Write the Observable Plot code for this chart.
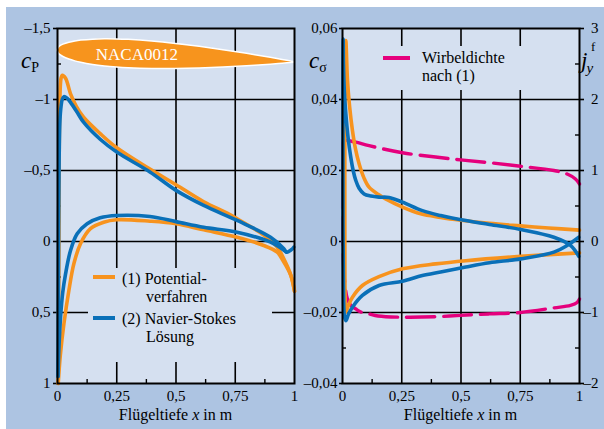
<!DOCTYPE html>
<html>
<head>
<meta charset="utf-8">
<script src="https://cdn.jsdelivr.net/npm/d3@7"></script>
<script src="https://cdn.jsdelivr.net/npm/@observablehq/plot@0.6"></script>
<style>
  html, body { margin: 0; padding: 0; background: #fff; }
  #wrap { position: relative; width: 604px; height: 429px; overflow: hidden; background: #fff; }
  #bg { position: absolute; left: 6px; top: 7px; width: 598px; height: 422px; background: #adc4e2; }
  #left, #right, #overlay { position: absolute; top: 0; }
  #left { left: 0; }
  #right { left: 300px; }
  #overlay { left: 0; pointer-events: none; }
  #overlay text { font-family: "Liberation Serif", "Times New Roman", Tinos, Times, "DejaVu Serif", "Noto Serif", serif; }
</style>
</head>
<body>
<div id="wrap">
  <div id="bg"></div>
  <div id="left"></div>
  <div id="right"></div>
  <svg id="overlay" width="604" height="429" xmlns="http://www.w3.org/2000/svg">
    <!-- axis name labels -->
    <text x="21" y="68" font-size="23" font-style="italic">c<tspan font-size="14" font-style="normal" dy="4">P</tspan></text>
    <text x="309" y="68" font-size="23" font-style="italic">c<tspan font-size="14" font-style="normal" dy="4">σ</tspan></text>
    <text x="581" y="68" font-size="23" font-style="italic">j<tspan font-size="15" dy="5" dx="-1">y</tspan></text>
    <text x="591" y="51" font-size="13">f</text>
    <!-- left legend -->
    <rect x="88" y="268" width="184" height="94" fill="#d5e0f0"/>
    <line x1="93" y1="277" x2="115" y2="277" stroke="#f7931e" stroke-width="4"/>
    <text x="122" y="284" font-size="16">(1) Potential-</text>
    <text x="146" y="302" font-size="16">verfahren</text>
    <line x1="93" y1="318" x2="115" y2="318" stroke="#0a70b8" stroke-width="4"/>
    <text x="122" y="324" font-size="16">(2) Navier-Stokes</text>
    <text x="146" y="342" font-size="16">Lösung</text>
    <!-- right legend -->
    <rect x="378" y="46" width="146" height="44" fill="#d5e0f0"/>
    <line x1="383" y1="58" x2="410" y2="58" stroke="#e5007d" stroke-width="4"/>
    <text x="422" y="63" font-size="16">Wirbeldichte</text>
    <text x="422" y="81" font-size="16">nach (1)</text>
    <!-- x axis titles -->
    <text x="175.5" y="420" font-size="16" text-anchor="middle">Flügeltiefe <tspan font-style="italic">x</tspan> in m</text>
    <text x="460.5" y="420" font-size="16" text-anchor="middle">Flügeltiefe <tspan font-style="italic">x</tspan> in m</text>
  </svg>
</div>
<script>
// ---------- tick values ----------
const xTicks = [0, 0.25, 0.5, 0.75, 1];
const xMinor = [0.125, 0.375, 0.625, 0.875];
const cpTicks = [-1.5, -1, -0.5, 0, 0.5, 1];
const cpMinor = [-1.25, -0.75, -0.25, 0.25, 0.75];
const csTicks = [-0.04, -0.02, 0, 0.02, 0.04, 0.06];
const csMinor = [-0.03, -0.01, 0.01, 0.03, 0.05];
const jTicks = [-2, -1, 0, 1, 2, 3];
const jMinor = [-1.5, -0.5, 0.5, 1.5, 2.5];

// ---------- left panel: pressure coefficient cp ----------
const cpPotUpperX = [0.003, 0.006, 0.009, 0.015, 0.02, 0.034, 0.055, 0.08, 0.11, 0.18, 0.25, 0.39, 0.5, 0.617, 0.716, 0.758, 0.87, 0.927, 0.96, 0.985, 1.0];
const cpPotUpper  = [1.0, 0.0, -0.9, -1.15, -1.17, -1.15, -1.04, -0.95, -0.875, -0.76, -0.66, -0.51, -0.40, -0.28, -0.2, -0.16, -0.045, 0.04, 0.14, 0.24, 0.35];
const cpPotLowerX = [0.003, 0.012, 0.027, 0.048, 0.069, 0.097, 0.139, 0.195, 0.25, 0.39, 0.5, 0.617, 0.758, 0.87, 0.927, 0.95, 0.985, 1.0];
const cpPotLower  = [1.0, 0.8, 0.58, 0.345, 0.157, 0.016, -0.09, -0.136, -0.153, -0.143, -0.125, -0.082, -0.03, 0.028, 0.075, 0.13, 0.24, 0.35];
const cpNSUpperX = [0.002, 0.004, 0.007, 0.012, 0.02, 0.027, 0.04, 0.055, 0.083, 0.11, 0.18, 0.25, 0.39, 0.5, 0.617, 0.758, 0.899, 0.955, 0.966, 0.985, 0.997];
const cpNSUpper  = [0.95, 0.2, -0.6, -0.9, -1.0, -1.02, -1.01, -0.98, -0.91, -0.84, -0.72, -0.63, -0.49, -0.36, -0.254, -0.148, -0.03, 0.05, 0.075, 0.06, 0.04];
const cpNSLowerX = [0.002, 0.006, 0.013, 0.022, 0.034, 0.055, 0.083, 0.125, 0.18, 0.25, 0.39, 0.5, 0.617, 0.758, 0.899, 0.966];
const cpNSLower  = [0.95, 0.75, 0.53, 0.36, 0.228, 0.063, -0.054, -0.125, -0.167, -0.183, -0.176, -0.14, -0.10, -0.065, 0.005, 0.075];

// NACA0012 profile (standard half-thickness table)
const foilX = [0, 0.005, 0.0125, 0.025, 0.05, 0.075, 0.1, 0.15, 0.2, 0.25, 0.3, 0.4, 0.5, 0.6, 0.7, 0.8, 0.9, 0.95, 1.0];
const foilT = [0, 0.0117, 0.01894, 0.02615, 0.03555, 0.042, 0.04683, 0.05345, 0.05737, 0.05941, 0.06002, 0.05803, 0.05294, 0.04563, 0.03664, 0.02623, 0.01448, 0.00807, 0.00126];
const foilLabel = "NACA0012";

// ---------- right panel: skin friction c_sigma and vortex density j ----------
const csPotX = [1.0, 0.751, 0.52, 0.393, 0.253, 0.154, 0.084, 0.042, 0.025, 0.014, 0.011, 0.01, 0.01, 0.011, 0.014, 0.021, 0.03, 0.042, 0.055, 0.07, 0.09, 0.112, 0.15, 0.182, 0.253, 0.33, 0.414, 0.5, 0.62, 0.75, 0.87, 1.0];
const csPot  = [-0.0032, -0.0042, -0.0054, -0.0063, -0.0077, -0.0099, -0.0124, -0.0157, -0.018, -0.0199, -0.015, 0.0, 0.03, 0.05, 0.0566, 0.0454, 0.038, 0.0313, 0.026, 0.0219, 0.018, 0.0153, 0.0133, 0.012, 0.0097, 0.0078, 0.0068, 0.006, 0.0051, 0.0044, 0.0038, 0.0032];
const csNSX = [0.997, 0.948, 0.892, 0.751, 0.62, 0.52, 0.414, 0.337, 0.253, 0.154, 0.084, 0.042, 0.025, 0.014, 0.008, 0.004, 0.002, 0.002, 0.002, 0.003, 0.004, 0.008, 0.014, 0.024, 0.035, 0.045, 0.056, 0.07, 0.091, 0.12, 0.154, 0.196, 0.253, 0.337, 0.414, 0.5, 0.62, 0.751, 0.892, 0.962, 0.997];
const csNS  = [0.0012, -0.0011, -0.003, -0.0049, -0.006, -0.0072, -0.0086, -0.0096, -0.0112, -0.0124, -0.0152, -0.0185, -0.0205, -0.0223, -0.021, -0.012, 0.005, 0.03, 0.05, 0.057, 0.05, 0.042, 0.036, 0.029, 0.0237, 0.02, 0.0172, 0.015, 0.0134, 0.0128, 0.0125, 0.0124, 0.0111, 0.0087, 0.0073, 0.0061, 0.0048, 0.0034, 0.0012, -0.0011, -0.0042];
const jX = [1.0, 0.99, 0.962, 0.892, 0.751, 0.62, 0.498, 0.393, 0.253, 0.15, 0.112, 0.075, 0.056, 0.035, 0.02, 0.01, 0.004, 0.001, 0.001, 0.002, 0.005, 0.014, 0.056, 0.112, 0.253, 0.393, 0.498, 0.62, 0.751, 0.892, 0.948, 0.983, 1.0];
const jDensity = [-0.81, -0.86, -0.9, -0.935, -1.0, -1.02, -1.04, -1.06, -1.066, -1.05, -1.02, -0.99, -0.95, -0.9, -0.8, -0.6, -0.3, 0.2, 0.8, 1.2, 1.45, 1.43, 1.40, 1.35, 1.25, 1.19, 1.15, 1.11, 1.06, 1.0, 0.95, 0.88, 0.81];

// ---------- styling ----------
const PANEL = "#d5e0f0";
const ORANGE = "#f7931e", BLUE = "#0a70b8", MAGENTA = "#e5007d";
const FONT = '"Liberation Serif", "Times New Roman", Tinos, Times, "DejaVu Serif", "Noto Serif", serif';
const fmt = v => (v < 0 ? "–" : "") + String(Math.abs(v)).replace(".", ",");
const pts = (xs, ys) => xs.map((x, i) => ({x, y: ys[i]}));

// airfoil placement (in plot units)
const foilLE = -1.345, foilTE = -1.261, foilK = 237 / 142;
const foil = foilX.map((x, i) => {
  const c = foilLE + (foilTE - foilLE) * x;
  return {x, lo: c - foilT[i] * foilK, hi: c + foilT[i] * foilK};
});

const gridStyle = {stroke: "#000", strokeOpacity: 1, strokeWidth: 1.6};
const W = 237, H = 355;

const left = Plot.plot({
  width: 300, height: 429,
  marginLeft: 57, marginRight: 6, marginTop: 28, marginBottom: 46,
  style: {background: "transparent", fontFamily: FONT, fontSize: "15px", color: "#000", overflow: "visible"},
  x: {domain: [0, 1], label: null},
  y: {domain: [-1.5, 1], reverse: true, label: null},
  marks: [
    Plot.frame({fill: PANEL}),
    Plot.gridX([0.25, 0.5, 0.75], gridStyle),
    Plot.gridY([-1, -0.5, 0, 0.5], gridStyle),
    Plot.tickY(cpMinor, {stroke: "#000", strokeWidth: 1.4, insetRight: W - 4}),
    Plot.tickX(xMinor, {stroke: "#000", strokeWidth: 1.4, insetTop: H - 4}),
    Plot.axisX({ticks: xTicks, tickFormat: fmt, tickSize: 0, tickPadding: 7, fontSize: 15, label: null}),
    Plot.axisY({ticks: cpTicks, tickFormat: fmt, tickSize: 4, tickPadding: 3, strokeWidth: 1.6, fontSize: 15, label: null}),
    Plot.areaY(foil, {x: "x", y1: "lo", y2: "hi", fill: "#f7941d", stroke: "#fff", strokeWidth: 1.5, curve: "catmull-rom"}),
    Plot.text([foilLabel], {x: 0.335, y: -1.318, text: d => d, fill: "#fff", fontSize: 17}),
    Plot.line(pts(cpPotUpperX, cpPotUpper), {x: "x", y: "y", stroke: ORANGE, strokeWidth: 3.6, curve: "catmull-rom"}),
    Plot.line(pts(cpPotLowerX, cpPotLower), {x: "x", y: "y", stroke: ORANGE, strokeWidth: 3.6, curve: "catmull-rom"}),
    Plot.line(pts(cpNSUpperX, cpNSUpper), {x: "x", y: "y", stroke: BLUE, strokeWidth: 3.6, curve: "catmull-rom"}),
    Plot.line(pts(cpNSLowerX, cpNSLower), {x: "x", y: "y", stroke: BLUE, strokeWidth: 3.6, curve: "catmull-rom"}),
    Plot.frame({stroke: "#000", strokeWidth: 2})
  ]
});
document.getElementById("left").append(left);

const right = Plot.plot({
  width: 304, height: 429,
  marginLeft: 42, marginRight: 25, marginTop: 28, marginBottom: 46,
  style: {background: "transparent", fontFamily: FONT, fontSize: "15px", color: "#000", overflow: "visible"},
  x: {domain: [0, 1], label: null},
  y: {domain: [-0.04, 0.06], label: null},
  marks: [
    Plot.frame({fill: PANEL}),
    Plot.gridX([0.25, 0.5, 0.75], gridStyle),
    Plot.gridY([-0.02, 0, 0.02, 0.04], gridStyle),
    Plot.tickY(csMinor, {stroke: "#000", strokeWidth: 1.4, insetRight: W - 4}),
    Plot.tickY(jMinor, {y: d => d / 50, stroke: "#000", strokeWidth: 1.4, insetLeft: W - 4}),
    Plot.tickX(xMinor, {stroke: "#000", strokeWidth: 1.4, insetTop: H - 4}),
    Plot.axisX({ticks: xTicks, tickFormat: fmt, tickSize: 0, tickPadding: 7, fontSize: 15, label: null}),
    Plot.axisY({ticks: csTicks, tickFormat: fmt, tickSize: 3, tickPadding: 2, strokeWidth: 1.6, fontSize: 15, label: null}),
    Plot.axisY({anchor: "right", ticks: jTicks.map(j => j / 50), tickFormat: v => fmt(Math.round(v * 50)), tickSize: 4, tickPadding: 15, textAnchor: "end", strokeWidth: 1.6, fontSize: 15, label: null}),
    Plot.line(pts(jX, jDensity), {x: "x", y: d => d.y / 50, stroke: MAGENTA, strokeWidth: 3.4, strokeDasharray: "28,9", curve: "catmull-rom"}),
    Plot.line(pts(csPotX, csPot), {x: "x", y: "y", stroke: ORANGE, strokeWidth: 3.6, curve: "catmull-rom"}),
    Plot.line(pts(csNSX, csNS), {x: "x", y: "y", stroke: BLUE, strokeWidth: 3.6, curve: "catmull-rom"}),
    Plot.frame({stroke: "#000", strokeWidth: 2})
  ]
});
document.getElementById("right").append(right);
</script>
</body>
</html>
